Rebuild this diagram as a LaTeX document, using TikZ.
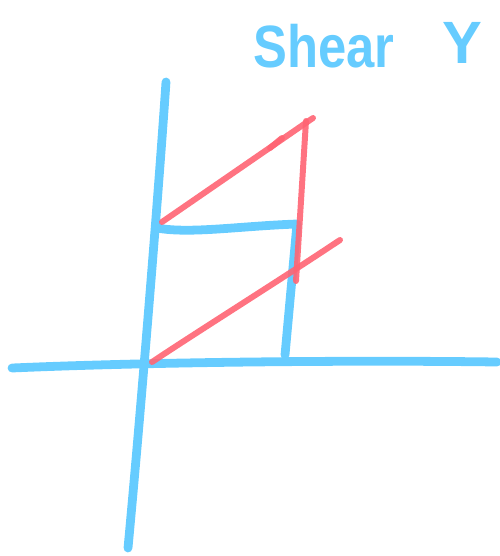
\documentclass[tikz,border=0pt]{standalone}
\usepackage{fontspec}
\setmainfont{Liberation Sans}
\usetikzlibrary{positioning}
\definecolor{skyblue}{RGB}{102,204,255}
\definecolor{sketchred}{RGB}{255,100,115}

\begin{document}
\begin{tikzpicture}[
    x=0.02cm, y=-0.02cm,
    %% -- Stroke styles ----------------------------------------------------
    %%
    %% axis: thick blue marker stroke (axes and the unit square)
    axis/.style={
        draw=skyblue,
        line width=5pt,
        line cap=round,
        line join=round,
    },
    %% sheared: thinner red marker stroke (the sheared square)
    sheared/.style={
        draw=sketchred,
        line width=3.4pt,
        line cap=round,
        line join=round,
        opacity=0.9,
    },
    %% -- Text style ------------------------------------------------------
    title/.style={text=skyblue, font=\fontsize{34}{34}\selectfont\bfseries, inner sep=0pt},
]
\useasboundingbox (0,0) rectangle (500,556);

%% -- Points ---------------------------------------------------------------

\coordinate (YTop)    at (166,82);
\coordinate (YBot)    at (128,548);
\coordinate (XLeft)   at (12,368);
\coordinate (XRight)  at (497,362);
\coordinate (SqTL)    at (157,228);
\coordinate (SqTR)    at (297,224);
\coordinate (SqBR)    at (285,355);
\coordinate (ShOrigin) at (152,362);
\coordinate (ShLowEnd) at (340,240);
\coordinate (ShUpStart) at (162,222);
\coordinate (ShUpEnd)  at (313,118);
\coordinate (ShRTop)   at (306,121);
\coordinate (ShRBot)   at (296,281);

%% -- Title ----------------------------------------------------------------

\node[title, anchor=base west] (ShearText) at (253,67) {\scalebox{0.85}[1]{Shear}};
\node[title, anchor=base west] (YText) at (442,63) {Y};

%% -- Axes and unit square (blue) --------------------------------------------

\draw[axis] (YTop) .. controls (158,200) and (140,420) .. (YBot);
\draw[axis] (XLeft) .. controls (150,362) and (350,360) .. (XRight);
\draw[axis] (SqTL) .. controls (190,234) and (240,226) .. (SqTR) -- (SqBR);

%% -- Sheared square (red) ----------------------------------------------------

\draw[sheared] (ShOrigin) .. controls (200,330) and (280,280) .. (ShLowEnd);
\draw[sheared] (ShUpStart) -- (ShUpEnd);
\draw[sheared] (270,148) -- (282,138);
\draw[sheared] (ShRTop) -- (ShRBot);

\end{tikzpicture}
\end{document}
